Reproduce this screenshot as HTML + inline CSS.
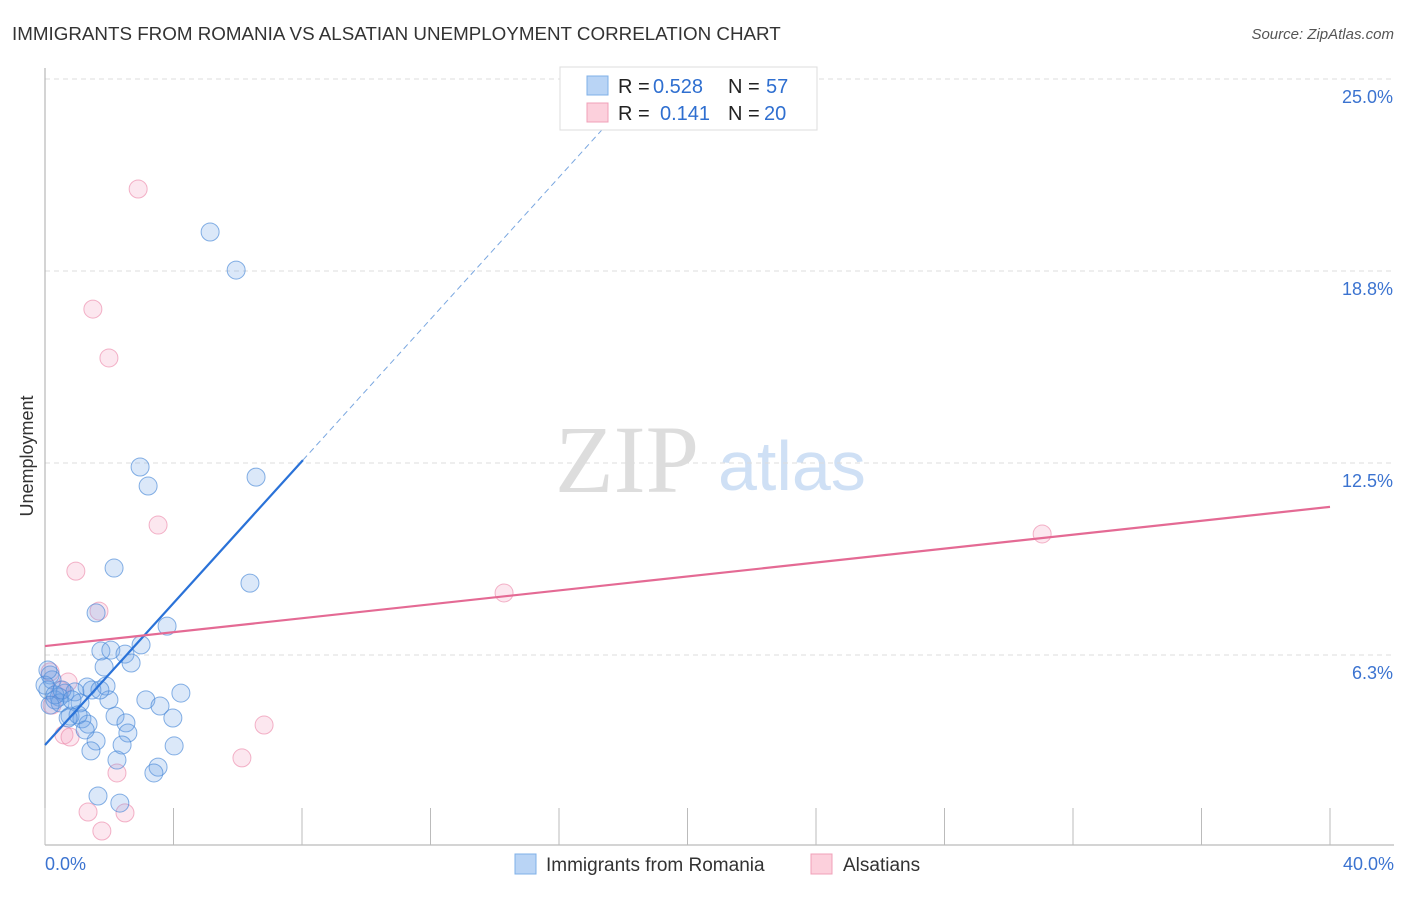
<!DOCTYPE html>
<html><head><meta charset="utf-8"><style>
body{margin:0;background:#fff;font-family:"Liberation Sans",sans-serif;}
svg text{font-family:"Liberation Sans",sans-serif;}
</style></head><body>
<svg id="c" width="1406" height="892">
<text x="12" y="40" font-size="18.8" fill="#333">IMMIGRANTS FROM ROMANIA VS ALSATIAN UNEMPLOYMENT CORRELATION CHART</text>
<text x="1394" y="39" font-size="15" fill="#555" font-style="italic" text-anchor="end">Source: ZipAtlas.com</text>
<text x="33" y="456" font-size="18" fill="#333" text-anchor="middle" transform="rotate(-90 33 456)">Unemployment</text>
<text x="555" y="492" font-size="96" fill="#ddd" style="font-family:'Liberation Serif',serif">ZIP</text>
<text x="718" y="490" font-size="70" fill="#cfe0f5">atlas</text>
<g id="grid"></g><g id="pts"></g><g id="lines"></g>
<g>
<rect x="560" y="67" width="257" height="63" fill="#fff" stroke="#ddd"/>
<rect x="587" y="76" width="21" height="19" fill="#b9d4f5" stroke="#7fb0e8"/>
<rect x="587" y="103" width="21" height="19" fill="#fcd0dc" stroke="#f0a0b8"/>
<text x="618" y="93" font-size="20" fill="#222">R =</text>
<text x="653" y="93" font-size="20" fill="#2f6fd0">0.528</text>
<text x="728" y="93" font-size="20" fill="#222">N =</text>
<text x="766" y="93" font-size="20" fill="#2f6fd0">57</text>
<text x="618" y="120" font-size="20" fill="#222">R =</text>
<text x="660" y="120" font-size="20" fill="#2f6fd0">0.141</text>
<text x="728" y="120" font-size="20" fill="#222">N =</text>
<text x="764" y="120" font-size="20" fill="#2f6fd0">20</text>
</g>
<g>
<rect x="515" y="854" width="21" height="20" fill="#b9d4f5" stroke="#7fb0e8"/>
<text x="546" y="871" font-size="19" fill="#333">Immigrants from Romania</text>
<rect x="811" y="854" width="21" height="20" fill="#fcd0dc" stroke="#f0a0b8"/>
<text x="843" y="871" font-size="19" fill="#333">Alsatians</text>
</g>
</svg>
<script>
const blueX=[5.14,5.95,2.96,3.21,6.57,2.15,6.38,1.59,3.80,2.99,1.74,2.05,2.49,1.84,2.68,0.16,0.22,0.09,1.90,1.31,0.62,0.93,1.46,0.44,0.31,1.09,1.99,3.14,4.23,3.58,0.78,1.15,2.18,1.34,3.98,2.52,2.58,1.59,2.40,4.02,1.43,2.24,3.52,3.39,1.65,2.33,0.00,0.47,1.03,0.72,0.31,0.09,0.53,0.84,0.16,1.71,1.25];
const blueY=[20.02,18.78,12.37,11.75,12.04,9.08,8.59,7.62,7.19,6.58,6.38,6.41,6.28,5.86,5.99,5.60,5.44,5.11,5.24,5.21,5.01,5.05,5.11,4.88,4.79,4.69,4.79,4.79,5.01,4.59,4.26,4.17,4.26,4.00,4.20,4.04,3.71,3.45,3.32,3.29,3.13,2.83,2.60,2.41,1.66,1.43,5.27,4.69,4.30,4.20,4.95,5.76,5.11,4.79,4.62,5.11,3.81];
const pinkX=[2.90,1.49,1.99,3.52,0.96,1.68,6.82,6.13,2.24,1.34,2.49,1.77,14.29,31.04,0.72,0.22,0.59,0.78,0.16,0.47];
const pinkY=[21.42,17.51,15.92,10.48,8.98,7.68,3.97,2.90,2.41,1.14,1.11,0.52,8.27,10.19,5.37,4.62,3.65,3.58,5.70,5.11];
const yTicks=[6.25,12.5,18.75,25];
const yTickLabels=["6.3%","12.5%","18.8%","25.0%"];
const xTicks=[0,4,8,12,16,20,24,28,32,36,40];
const blueTrend=[3.32,1.155];
const pinkTrend=[6.54,0.1133];
const X=v=>45+v/40*1285, Y=v=>847-v/6.25*192;
const ns="http://www.w3.org/2000/svg";
function mk(t,a,p){const e=document.createElementNS(ns,t);for(const k in a)e.setAttribute(k,a[k]);p.appendChild(e);return e;}
const g=document.getElementById('grid');
yTicks.forEach((v,i)=>{
 const l=mk('line',{x1:45,x2:1394,y1:Y(v),y2:Y(v),stroke:'#ddd','stroke-dasharray':'5,4'},g);
 
 
 const t=mk('text',{x:1393,y:Y(v)+24,'font-size':18,fill:'#3b73d0','text-anchor':'end'},g);
 t.textContent=yTickLabels[i];
 
 
});
const ax=mk('line',{x1:45,x2:1394,y1:845,y2:845,stroke:'#aaa'},g);


const ay=mk('line',{x1:45,x2:45,y1:68,y2:845,stroke:'#aaa'},g);


xTicks.forEach(v=>{
 const l=mk('line',{x1:X(v),x2:X(v),y1:808,y2:845,stroke:'#bbb'},g);
 
 
});
[[0,"0.0%",'start',45],[40,"40.0%",'end',1394]].forEach(a=>{
 const t=mk('text',{x:a[3],y:870,'font-size':18,fill:'#3b73d0','text-anchor':a[2]},g);
 t.textContent=a[1];
 
 
});
const p=document.getElementById('pts');
pinkX.forEach((x,i)=>{
 const c=mk('circle',{cx:X(x),cy:Y(pinkY[i]),r:9,fill:'rgba(245,160,190,0.25)',stroke:'rgba(235,130,165,0.6)'},p);
 
 
});
blueX.forEach((x,i)=>{
 const c=mk('circle',{cx:X(x),cy:Y(blueY[i]),r:9,fill:'rgba(110,165,230,0.25)',stroke:'rgba(70,135,215,0.65)'},p);
 
 
});
const L=document.getElementById('lines');
const bl=mk('line',{x1:X(0),y1:Y(blueTrend[0]),x2:X(8.03),y2:Y(blueTrend[0]+blueTrend[1]*8.03),stroke:'#2a72d8','stroke-width':2.2},L);


const bd=mk('line',{x1:X(8.03),y1:Y(blueTrend[0]+blueTrend[1]*8.03),x2:X(17.4),y2:Y(blueTrend[0]+blueTrend[1]*17.4),stroke:'#7aa7e0','stroke-width':1,'stroke-dasharray':'6,4'},L);


const pl=mk('line',{x1:X(0),y1:Y(pinkTrend[0]),x2:X(40),y2:Y(pinkTrend[0]+pinkTrend[1]*40),stroke:'#e46a94','stroke-width':2.2},L);


</script>
</body></html>
